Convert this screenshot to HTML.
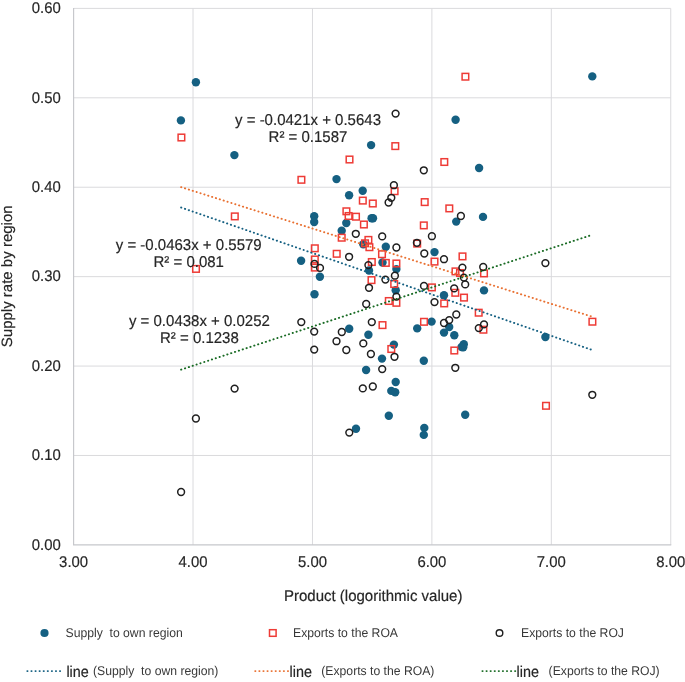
<!DOCTYPE html>
<html><head><meta charset="utf-8"><style>html,body{margin:0;padding:0;background:#fff;width:685px;height:682px;overflow:hidden}svg{display:block;filter:blur(0.3px)}</style></head>
<body><svg width="685" height="682" viewBox="0 0 685 682"><rect width="685" height="682" fill="#fff"/><path d="M73.60 455.48H670.75M73.60 366.07H670.75M73.60 276.65H670.75M73.60 187.23H670.75M73.60 97.81H670.75M73.60 8.40H670.75M193.03 8.40V544.90M312.46 8.40V544.90M431.89 8.40V544.90M551.32 8.40V544.90M670.75 8.40V544.90" stroke="#dadadd" stroke-width="1" fill="none"/><path d="M73.60 7.90V544.90H671.25" stroke="#c6c7cb" stroke-width="1.15" fill="none"/><text transform="translate(60.80 549.60) scale(1 1.04)" text-anchor="end" font-family="Liberation Sans, sans-serif" text-rendering="geometricPrecision" font-size="14.9" fill="#262626" stroke="#262626" stroke-width="0.18" xml:space="preserve">0.00</text><text transform="translate(60.80 460.18) scale(1 1.04)" text-anchor="end" font-family="Liberation Sans, sans-serif" text-rendering="geometricPrecision" font-size="14.9" fill="#262626" stroke="#262626" stroke-width="0.18" xml:space="preserve">0.10</text><text transform="translate(60.80 370.77) scale(1 1.04)" text-anchor="end" font-family="Liberation Sans, sans-serif" text-rendering="geometricPrecision" font-size="14.9" fill="#262626" stroke="#262626" stroke-width="0.18" xml:space="preserve">0.20</text><text transform="translate(60.80 281.35) scale(1 1.04)" text-anchor="end" font-family="Liberation Sans, sans-serif" text-rendering="geometricPrecision" font-size="14.9" fill="#262626" stroke="#262626" stroke-width="0.18" xml:space="preserve">0.30</text><text transform="translate(60.80 191.93) scale(1 1.04)" text-anchor="end" font-family="Liberation Sans, sans-serif" text-rendering="geometricPrecision" font-size="14.9" fill="#262626" stroke="#262626" stroke-width="0.18" xml:space="preserve">0.40</text><text transform="translate(60.80 102.52) scale(1 1.04)" text-anchor="end" font-family="Liberation Sans, sans-serif" text-rendering="geometricPrecision" font-size="14.9" fill="#262626" stroke="#262626" stroke-width="0.18" xml:space="preserve">0.50</text><text transform="translate(60.80 13.10) scale(1 1.04)" text-anchor="end" font-family="Liberation Sans, sans-serif" text-rendering="geometricPrecision" font-size="14.9" fill="#262626" stroke="#262626" stroke-width="0.18" xml:space="preserve">0.60</text><text transform="translate(73.60 567.10) scale(1 1.04)" text-anchor="middle" font-family="Liberation Sans, sans-serif" text-rendering="geometricPrecision" font-size="14.9" fill="#262626" stroke="#262626" stroke-width="0.18" xml:space="preserve">3.00</text><text transform="translate(193.03 567.10) scale(1 1.04)" text-anchor="middle" font-family="Liberation Sans, sans-serif" text-rendering="geometricPrecision" font-size="14.9" fill="#262626" stroke="#262626" stroke-width="0.18" xml:space="preserve">4.00</text><text transform="translate(312.46 567.10) scale(1 1.04)" text-anchor="middle" font-family="Liberation Sans, sans-serif" text-rendering="geometricPrecision" font-size="14.9" fill="#262626" stroke="#262626" stroke-width="0.18" xml:space="preserve">5.00</text><text transform="translate(431.89 567.10) scale(1 1.04)" text-anchor="middle" font-family="Liberation Sans, sans-serif" text-rendering="geometricPrecision" font-size="14.9" fill="#262626" stroke="#262626" stroke-width="0.18" xml:space="preserve">6.00</text><text transform="translate(551.32 567.10) scale(1 1.04)" text-anchor="middle" font-family="Liberation Sans, sans-serif" text-rendering="geometricPrecision" font-size="14.9" fill="#262626" stroke="#262626" stroke-width="0.18" xml:space="preserve">7.00</text><text transform="translate(670.75 567.10) scale(1 1.04)" text-anchor="middle" font-family="Liberation Sans, sans-serif" text-rendering="geometricPrecision" font-size="14.9" fill="#262626" stroke="#262626" stroke-width="0.18" xml:space="preserve">8.00</text><text transform="translate(373.20 601.00) scale(1 1.04)" text-anchor="middle" font-family="Liberation Sans, sans-serif" text-rendering="geometricPrecision" font-size="15.0" fill="#262626" stroke="#262626" stroke-width="0.18" xml:space="preserve">Product (logorithmic value)</text><text transform="translate(11.9 276.3) rotate(-90)" text-anchor="middle" font-family="Liberation Sans, sans-serif" text-rendering="geometricPrecision" font-size="15.0" fill="#262626" stroke="#262626" stroke-width="0.18">Supply rate by region</text><circle cx="195.9" cy="82.2" r="4.2" fill="#156082"/><circle cx="180.9" cy="120.4" r="4.2" fill="#156082"/><circle cx="234.4" cy="155.1" r="4.2" fill="#156082"/><circle cx="371.1" cy="145.1" r="4.2" fill="#156082"/><circle cx="455.6" cy="119.7" r="4.2" fill="#156082"/><circle cx="479.1" cy="168.0" r="4.2" fill="#156082"/><circle cx="592.3" cy="76.4" r="4.2" fill="#156082"/><circle cx="336.5" cy="179.1" r="4.2" fill="#156082"/><circle cx="362.7" cy="190.8" r="4.2" fill="#156082"/><circle cx="349.1" cy="195.2" r="4.2" fill="#156082"/><circle cx="371.6" cy="218.3" r="4.2" fill="#156082"/><circle cx="373.0" cy="218.3" r="4.2" fill="#156082"/><circle cx="314.2" cy="216.2" r="4.2" fill="#156082"/><circle cx="314.2" cy="222.0" r="4.2" fill="#156082"/><circle cx="346.3" cy="223.0" r="4.2" fill="#156082"/><circle cx="341.7" cy="230.8" r="4.2" fill="#156082"/><circle cx="363.3" cy="244.3" r="4.2" fill="#156082"/><circle cx="301.1" cy="260.7" r="4.2" fill="#156082"/><circle cx="456.2" cy="221.6" r="4.2" fill="#156082"/><circle cx="483.0" cy="216.9" r="4.2" fill="#156082"/><circle cx="385.8" cy="246.8" r="4.2" fill="#156082"/><circle cx="434.5" cy="252.1" r="4.2" fill="#156082"/><circle cx="319.9" cy="276.8" r="4.2" fill="#156082"/><circle cx="314.5" cy="294.3" r="4.2" fill="#156082"/><circle cx="369.0" cy="270.5" r="4.2" fill="#156082"/><circle cx="349.2" cy="328.7" r="4.2" fill="#156082"/><circle cx="368.4" cy="334.8" r="4.2" fill="#156082"/><circle cx="382.5" cy="262.5" r="4.2" fill="#156082"/><circle cx="396.4" cy="269.1" r="4.2" fill="#156082"/><circle cx="395.7" cy="290.3" r="4.2" fill="#156082"/><circle cx="444.0" cy="295.2" r="4.2" fill="#156082"/><circle cx="484.0" cy="290.4" r="4.2" fill="#156082"/><circle cx="449.2" cy="327.0" r="4.2" fill="#156082"/><circle cx="444.0" cy="332.6" r="4.2" fill="#156082"/><circle cx="454.3" cy="335.2" r="4.2" fill="#156082"/><circle cx="431.6" cy="321.6" r="4.2" fill="#156082"/><circle cx="417.2" cy="328.4" r="4.2" fill="#156082"/><circle cx="393.9" cy="344.6" r="4.2" fill="#156082"/><circle cx="463.8" cy="344.2" r="4.2" fill="#156082"/><circle cx="461.6" cy="347.0" r="4.2" fill="#156082"/><circle cx="463.2" cy="347.3" r="4.2" fill="#156082"/><circle cx="545.4" cy="337.0" r="4.2" fill="#156082"/><circle cx="382.0" cy="358.6" r="4.2" fill="#156082"/><circle cx="423.8" cy="360.8" r="4.2" fill="#156082"/><circle cx="366.1" cy="370.0" r="4.2" fill="#156082"/><circle cx="395.7" cy="382.0" r="4.2" fill="#156082"/><circle cx="391.3" cy="390.9" r="4.2" fill="#156082"/><circle cx="395.2" cy="392.3" r="4.2" fill="#156082"/><circle cx="388.8" cy="415.8" r="4.2" fill="#156082"/><circle cx="424.3" cy="427.9" r="4.2" fill="#156082"/><circle cx="423.8" cy="434.9" r="4.2" fill="#156082"/><circle cx="465.2" cy="414.7" r="4.2" fill="#156082"/><circle cx="356.0" cy="428.7" r="4.2" fill="#156082"/><rect x="178.1" y="134.2" width="6.6" height="6.6" fill="none" stroke="#EE3B36" stroke-width="1.5"/><rect x="346.2" y="156.2" width="6.6" height="6.6" fill="none" stroke="#EE3B36" stroke-width="1.5"/><rect x="392.0" y="142.8" width="6.6" height="6.6" fill="none" stroke="#EE3B36" stroke-width="1.5"/><rect x="462.1" y="73.4" width="6.6" height="6.6" fill="none" stroke="#EE3B36" stroke-width="1.5"/><rect x="441.0" y="158.7" width="6.6" height="6.6" fill="none" stroke="#EE3B36" stroke-width="1.5"/><rect x="231.5" y="213.1" width="6.6" height="6.6" fill="none" stroke="#EE3B36" stroke-width="1.5"/><rect x="192.7" y="265.6" width="6.6" height="6.6" fill="none" stroke="#EE3B36" stroke-width="1.5"/><rect x="298.1" y="176.5" width="6.6" height="6.6" fill="none" stroke="#EE3B36" stroke-width="1.5"/><rect x="359.5" y="197.3" width="6.6" height="6.6" fill="none" stroke="#EE3B36" stroke-width="1.5"/><rect x="369.5" y="200.2" width="6.6" height="6.6" fill="none" stroke="#EE3B36" stroke-width="1.5"/><rect x="343.1" y="208.0" width="6.6" height="6.6" fill="none" stroke="#EE3B36" stroke-width="1.5"/><rect x="345.3" y="212.7" width="6.6" height="6.6" fill="none" stroke="#EE3B36" stroke-width="1.5"/><rect x="352.7" y="213.4" width="6.6" height="6.6" fill="none" stroke="#EE3B36" stroke-width="1.5"/><rect x="360.6" y="221.2" width="6.6" height="6.6" fill="none" stroke="#EE3B36" stroke-width="1.5"/><rect x="338.4" y="234.4" width="6.6" height="6.6" fill="none" stroke="#EE3B36" stroke-width="1.5"/><rect x="365.1" y="236.6" width="6.6" height="6.6" fill="none" stroke="#EE3B36" stroke-width="1.5"/><rect x="361.7" y="240.0" width="6.6" height="6.6" fill="none" stroke="#EE3B36" stroke-width="1.5"/><rect x="366.1" y="243.9" width="6.6" height="6.6" fill="none" stroke="#EE3B36" stroke-width="1.5"/><rect x="311.5" y="245.0" width="6.6" height="6.6" fill="none" stroke="#EE3B36" stroke-width="1.5"/><rect x="333.4" y="250.5" width="6.6" height="6.6" fill="none" stroke="#EE3B36" stroke-width="1.5"/><rect x="311.5" y="256.2" width="6.6" height="6.6" fill="none" stroke="#EE3B36" stroke-width="1.5"/><rect x="311.5" y="264.3" width="6.6" height="6.6" fill="none" stroke="#EE3B36" stroke-width="1.5"/><rect x="368.5" y="258.7" width="6.6" height="6.6" fill="none" stroke="#EE3B36" stroke-width="1.5"/><rect x="368.2" y="276.8" width="6.6" height="6.6" fill="none" stroke="#EE3B36" stroke-width="1.5"/><rect x="391.3" y="187.9" width="6.6" height="6.6" fill="none" stroke="#EE3B36" stroke-width="1.5"/><rect x="421.4" y="198.8" width="6.6" height="6.6" fill="none" stroke="#EE3B36" stroke-width="1.5"/><rect x="446.0" y="205.1" width="6.6" height="6.6" fill="none" stroke="#EE3B36" stroke-width="1.5"/><rect x="420.5" y="222.1" width="6.6" height="6.6" fill="none" stroke="#EE3B36" stroke-width="1.5"/><rect x="413.9" y="240.3" width="6.6" height="6.6" fill="none" stroke="#EE3B36" stroke-width="1.5"/><rect x="459.2" y="253.1" width="6.6" height="6.6" fill="none" stroke="#EE3B36" stroke-width="1.5"/><rect x="378.7" y="250.9" width="6.6" height="6.6" fill="none" stroke="#EE3B36" stroke-width="1.5"/><rect x="431.2" y="258.3" width="6.6" height="6.6" fill="none" stroke="#EE3B36" stroke-width="1.5"/><rect x="382.5" y="259.6" width="6.6" height="6.6" fill="none" stroke="#EE3B36" stroke-width="1.5"/><rect x="393.1" y="260.2" width="6.6" height="6.6" fill="none" stroke="#EE3B36" stroke-width="1.5"/><rect x="390.9" y="280.7" width="6.6" height="6.6" fill="none" stroke="#EE3B36" stroke-width="1.5"/><rect x="393.1" y="299.5" width="6.6" height="6.6" fill="none" stroke="#EE3B36" stroke-width="1.5"/><rect x="385.5" y="297.7" width="6.6" height="6.6" fill="none" stroke="#EE3B36" stroke-width="1.5"/><rect x="428.6" y="284.1" width="6.6" height="6.6" fill="none" stroke="#EE3B36" stroke-width="1.5"/><rect x="440.9" y="300.1" width="6.6" height="6.6" fill="none" stroke="#EE3B36" stroke-width="1.5"/><rect x="452.2" y="268.1" width="6.6" height="6.6" fill="none" stroke="#EE3B36" stroke-width="1.5"/><rect x="456.7" y="269.7" width="6.6" height="6.6" fill="none" stroke="#EE3B36" stroke-width="1.5"/><rect x="452.0" y="289.5" width="6.6" height="6.6" fill="none" stroke="#EE3B36" stroke-width="1.5"/><rect x="460.7" y="294.3" width="6.6" height="6.6" fill="none" stroke="#EE3B36" stroke-width="1.5"/><rect x="480.7" y="270.1" width="6.6" height="6.6" fill="none" stroke="#EE3B36" stroke-width="1.5"/><rect x="475.4" y="309.4" width="6.6" height="6.6" fill="none" stroke="#EE3B36" stroke-width="1.5"/><rect x="420.7" y="318.5" width="6.6" height="6.6" fill="none" stroke="#EE3B36" stroke-width="1.5"/><rect x="379.2" y="321.8" width="6.6" height="6.6" fill="none" stroke="#EE3B36" stroke-width="1.5"/><rect x="388.0" y="345.7" width="6.6" height="6.6" fill="none" stroke="#EE3B36" stroke-width="1.5"/><rect x="451.0" y="347.2" width="6.6" height="6.6" fill="none" stroke="#EE3B36" stroke-width="1.5"/><rect x="589.1" y="318.4" width="6.6" height="6.6" fill="none" stroke="#EE3B36" stroke-width="1.5"/><rect x="480.1" y="326.4" width="6.6" height="6.6" fill="none" stroke="#EE3B36" stroke-width="1.5"/><rect x="542.7" y="402.5" width="6.6" height="6.6" fill="none" stroke="#EE3B36" stroke-width="1.5"/><circle cx="395.6" cy="113.6" r="3.4" fill="none" stroke="#1f1f1f" stroke-width="1.5"/><circle cx="423.8" cy="170.3" r="3.4" fill="none" stroke="#1f1f1f" stroke-width="1.5"/><circle cx="181.1" cy="492.0" r="3.4" fill="none" stroke="#1f1f1f" stroke-width="1.5"/><circle cx="393.9" cy="185.2" r="3.4" fill="none" stroke="#1f1f1f" stroke-width="1.5"/><circle cx="391.3" cy="197.8" r="3.4" fill="none" stroke="#1f1f1f" stroke-width="1.5"/><circle cx="388.6" cy="202.5" r="3.4" fill="none" stroke="#1f1f1f" stroke-width="1.5"/><circle cx="460.9" cy="216.0" r="3.4" fill="none" stroke="#1f1f1f" stroke-width="1.5"/><circle cx="355.8" cy="233.8" r="3.4" fill="none" stroke="#1f1f1f" stroke-width="1.5"/><circle cx="382.2" cy="236.4" r="3.4" fill="none" stroke="#1f1f1f" stroke-width="1.5"/><circle cx="431.9" cy="236.2" r="3.4" fill="none" stroke="#1f1f1f" stroke-width="1.5"/><circle cx="416.9" cy="242.8" r="3.4" fill="none" stroke="#1f1f1f" stroke-width="1.5"/><circle cx="396.4" cy="247.5" r="3.4" fill="none" stroke="#1f1f1f" stroke-width="1.5"/><circle cx="424.3" cy="253.5" r="3.4" fill="none" stroke="#1f1f1f" stroke-width="1.5"/><circle cx="444.0" cy="259.2" r="3.4" fill="none" stroke="#1f1f1f" stroke-width="1.5"/><circle cx="349.1" cy="256.8" r="3.4" fill="none" stroke="#1f1f1f" stroke-width="1.5"/><circle cx="314.5" cy="263.9" r="3.4" fill="none" stroke="#1f1f1f" stroke-width="1.5"/><circle cx="320.0" cy="267.9" r="3.4" fill="none" stroke="#1f1f1f" stroke-width="1.5"/><circle cx="368.4" cy="265.1" r="3.4" fill="none" stroke="#1f1f1f" stroke-width="1.5"/><circle cx="369.0" cy="287.8" r="3.4" fill="none" stroke="#1f1f1f" stroke-width="1.5"/><circle cx="366.2" cy="304.0" r="3.4" fill="none" stroke="#1f1f1f" stroke-width="1.5"/><circle cx="301.3" cy="322.1" r="3.4" fill="none" stroke="#1f1f1f" stroke-width="1.5"/><circle cx="314.2" cy="331.6" r="3.4" fill="none" stroke="#1f1f1f" stroke-width="1.5"/><circle cx="341.8" cy="332.0" r="3.4" fill="none" stroke="#1f1f1f" stroke-width="1.5"/><circle cx="371.8" cy="322.1" r="3.4" fill="none" stroke="#1f1f1f" stroke-width="1.5"/><circle cx="336.5" cy="341.2" r="3.4" fill="none" stroke="#1f1f1f" stroke-width="1.5"/><circle cx="363.3" cy="343.4" r="3.4" fill="none" stroke="#1f1f1f" stroke-width="1.5"/><circle cx="314.2" cy="349.6" r="3.4" fill="none" stroke="#1f1f1f" stroke-width="1.5"/><circle cx="346.3" cy="350.0" r="3.4" fill="none" stroke="#1f1f1f" stroke-width="1.5"/><circle cx="370.9" cy="354.0" r="3.4" fill="none" stroke="#1f1f1f" stroke-width="1.5"/><circle cx="382.2" cy="369.1" r="3.4" fill="none" stroke="#1f1f1f" stroke-width="1.5"/><circle cx="362.8" cy="388.4" r="3.4" fill="none" stroke="#1f1f1f" stroke-width="1.5"/><circle cx="372.8" cy="386.5" r="3.4" fill="none" stroke="#1f1f1f" stroke-width="1.5"/><circle cx="394.5" cy="356.8" r="3.4" fill="none" stroke="#1f1f1f" stroke-width="1.5"/><circle cx="455.3" cy="367.8" r="3.4" fill="none" stroke="#1f1f1f" stroke-width="1.5"/><circle cx="394.9" cy="275.7" r="3.4" fill="none" stroke="#1f1f1f" stroke-width="1.5"/><circle cx="385.4" cy="279.6" r="3.4" fill="none" stroke="#1f1f1f" stroke-width="1.5"/><circle cx="396.4" cy="296.6" r="3.4" fill="none" stroke="#1f1f1f" stroke-width="1.5"/><circle cx="424.0" cy="285.9" r="3.4" fill="none" stroke="#1f1f1f" stroke-width="1.5"/><circle cx="434.5" cy="302.1" r="3.4" fill="none" stroke="#1f1f1f" stroke-width="1.5"/><circle cx="462.4" cy="267.6" r="3.4" fill="none" stroke="#1f1f1f" stroke-width="1.5"/><circle cx="463.9" cy="277.6" r="3.4" fill="none" stroke="#1f1f1f" stroke-width="1.5"/><circle cx="465.2" cy="284.4" r="3.4" fill="none" stroke="#1f1f1f" stroke-width="1.5"/><circle cx="454.2" cy="288.4" r="3.4" fill="none" stroke="#1f1f1f" stroke-width="1.5"/><circle cx="456.3" cy="314.5" r="3.4" fill="none" stroke="#1f1f1f" stroke-width="1.5"/><circle cx="449.2" cy="320.1" r="3.4" fill="none" stroke="#1f1f1f" stroke-width="1.5"/><circle cx="444.0" cy="323.0" r="3.4" fill="none" stroke="#1f1f1f" stroke-width="1.5"/><circle cx="483.2" cy="267.0" r="3.4" fill="none" stroke="#1f1f1f" stroke-width="1.5"/><circle cx="545.4" cy="263.1" r="3.4" fill="none" stroke="#1f1f1f" stroke-width="1.5"/><circle cx="234.6" cy="388.6" r="3.4" fill="none" stroke="#1f1f1f" stroke-width="1.5"/><circle cx="195.9" cy="418.5" r="3.4" fill="none" stroke="#1f1f1f" stroke-width="1.5"/><circle cx="349.3" cy="432.6" r="3.4" fill="none" stroke="#1f1f1f" stroke-width="1.5"/><circle cx="478.8" cy="328.1" r="3.4" fill="none" stroke="#1f1f1f" stroke-width="1.5"/><circle cx="484.0" cy="324.4" r="3.4" fill="none" stroke="#1f1f1f" stroke-width="1.5"/><circle cx="592.3" cy="394.8" r="3.4" fill="none" stroke="#1f1f1f" stroke-width="1.5"/><line x1="181.09" y1="207.50" x2="592.40" y2="350.08" stroke="#156082" stroke-width="1.9" stroke-dasharray="0.25 3.8" stroke-linecap="round"/><line x1="181.09" y1="187.13" x2="592.40" y2="316.78" stroke="#E97132" stroke-width="1.9" stroke-dasharray="0.25 3.8" stroke-linecap="round"/><line x1="181.09" y1="369.62" x2="592.40" y2="234.74" stroke="#196B24" stroke-width="1.9" stroke-dasharray="0.25 3.8" stroke-linecap="round"/><text transform="translate(308.00 125.00) scale(1 1.04)" text-anchor="middle" font-family="Liberation Sans, sans-serif" text-rendering="geometricPrecision" font-size="15.0" fill="#262626" stroke="#262626" stroke-width="0.18" xml:space="preserve">y = -0.0421x + 0.5643</text><text transform="translate(308.00 142.00) scale(1 1.04)" text-anchor="middle" font-family="Liberation Sans, sans-serif" text-rendering="geometricPrecision" font-size="15.0" fill="#262626" stroke="#262626" stroke-width="0.18" xml:space="preserve">R² = 0.1587</text><text transform="translate(188.70 249.70) scale(1 1.04)" text-anchor="middle" font-family="Liberation Sans, sans-serif" text-rendering="geometricPrecision" font-size="15.0" fill="#262626" stroke="#262626" stroke-width="0.18" xml:space="preserve">y = -0.0463x + 0.5579</text><text transform="translate(188.70 266.70) scale(1 1.04)" text-anchor="middle" font-family="Liberation Sans, sans-serif" text-rendering="geometricPrecision" font-size="15.0" fill="#262626" stroke="#262626" stroke-width="0.18" xml:space="preserve">R² = 0.081</text><text transform="translate(199.40 326.00) scale(1 1.04)" text-anchor="middle" font-family="Liberation Sans, sans-serif" text-rendering="geometricPrecision" font-size="15.0" fill="#262626" stroke="#262626" stroke-width="0.18" xml:space="preserve">y = 0.0438x + 0.0252</text><text transform="translate(199.40 343.00) scale(1 1.04)" text-anchor="middle" font-family="Liberation Sans, sans-serif" text-rendering="geometricPrecision" font-size="15.0" fill="#262626" stroke="#262626" stroke-width="0.18" xml:space="preserve">R² = 0.1238</text><circle cx="44.5" cy="633" r="4.1" fill="#156082"/><text transform="translate(65.50 636.70) scale(1 1.04)" font-family="Liberation Sans, sans-serif" text-rendering="geometricPrecision" font-size="12.2" fill="#383838" stroke="#383838" stroke-width="0" xml:space="preserve">Supply  to own region</text><rect x="269.5" y="629.7" width="6.6" height="6.6" fill="none" stroke="#EE3B36" stroke-width="1.5"/><text transform="translate(293.00 636.70) scale(1 1.04)" font-family="Liberation Sans, sans-serif" text-rendering="geometricPrecision" font-size="12.2" fill="#383838" stroke="#383838" stroke-width="0" xml:space="preserve">Exports to the ROA</text><circle cx="499.5" cy="633" r="3.3" fill="none" stroke="#1f1f1f" stroke-width="1.4"/><text transform="translate(521.00 636.70) scale(1 1.04)" font-family="Liberation Sans, sans-serif" text-rendering="geometricPrecision" font-size="12.2" fill="#383838" stroke="#383838" stroke-width="0" xml:space="preserve">Exports to the ROJ</text><line x1="27.30" y1="671.1" x2="60.20" y2="671.1" stroke="#156082" stroke-width="1.9" stroke-dasharray="0.25 3.83" stroke-linecap="round"/><text transform="translate(66.40 676.60) scale(1 1.04)" font-family="Liberation Sans, sans-serif" text-rendering="geometricPrecision" font-size="15" fill="#262626" stroke="#262626" stroke-width="0.18" xml:space="preserve" textLength="22.4" lengthAdjust="spacingAndGlyphs">line</text><text transform="translate(93.00 675.30) scale(1 1.04)" font-family="Liberation Sans, sans-serif" text-rendering="geometricPrecision" font-size="12.2" fill="#383838" stroke="#383838" stroke-width="0" xml:space="preserve">(Supply  to own region)</text><line x1="255.20" y1="671.1" x2="288.10" y2="671.1" stroke="#E97132" stroke-width="1.9" stroke-dasharray="0.25 3.83" stroke-linecap="round"/><text transform="translate(289.50 676.60) scale(1 1.04)" font-family="Liberation Sans, sans-serif" text-rendering="geometricPrecision" font-size="15" fill="#262626" stroke="#262626" stroke-width="0.18" xml:space="preserve" textLength="22.4" lengthAdjust="spacingAndGlyphs">line</text><text transform="translate(321.30 675.30) scale(1 1.04)" font-family="Liberation Sans, sans-serif" text-rendering="geometricPrecision" font-size="12.2" fill="#383838" stroke="#383838" stroke-width="0" xml:space="preserve">(Exports to the ROA)</text><line x1="482.40" y1="671.1" x2="515.30" y2="671.1" stroke="#196B24" stroke-width="1.9" stroke-dasharray="0.25 3.83" stroke-linecap="round"/><text transform="translate(516.60 676.60) scale(1 1.04)" font-family="Liberation Sans, sans-serif" text-rendering="geometricPrecision" font-size="15" fill="#262626" stroke="#262626" stroke-width="0.18" xml:space="preserve" textLength="22.4" lengthAdjust="spacingAndGlyphs">line</text><text transform="translate(548.60 675.30) scale(1 1.04)" font-family="Liberation Sans, sans-serif" text-rendering="geometricPrecision" font-size="12.2" fill="#383838" stroke="#383838" stroke-width="0" xml:space="preserve">(Exports to the ROJ)</text></svg></body></html>
